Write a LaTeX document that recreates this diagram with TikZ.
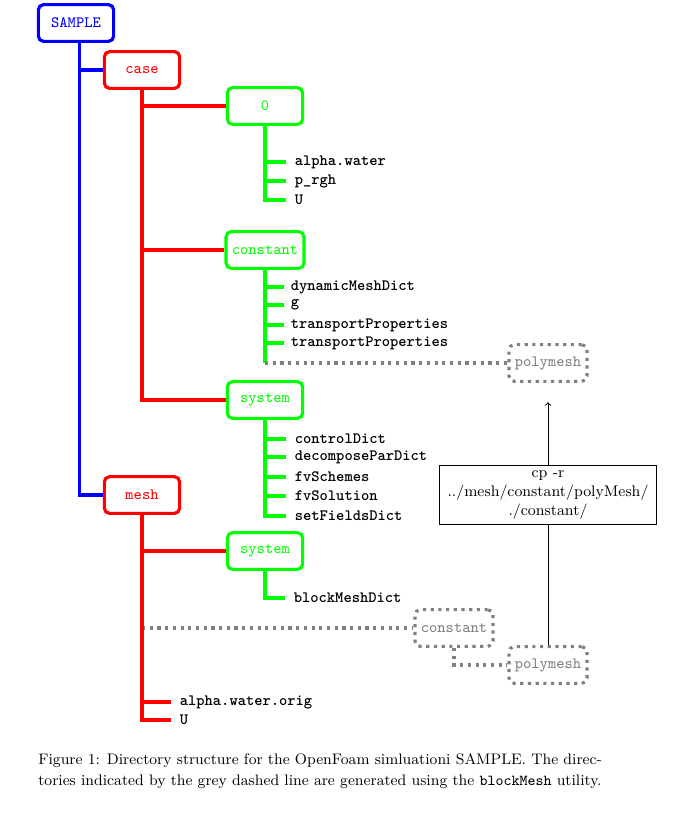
\documentclass[tikz,border=0pt]{standalone}
\usepackage{xcolor}
\usetikzlibrary{positioning}

\begin{document}
\begin{tikzpicture}[x=0.571pt, y=-0.571pt,
    dirbox/.style={draw=#1, text=#1, rounded corners=3pt, line width=1.8pt, fill=white,
                   minimum width=43pt, minimum height=21pt, font=\small\ttfamily},
    genbox/.style={draw=gray, text=gray, line width=1.8pt, dash pattern=on 1.8pt off 2.6pt,
                   rounded corners=3pt, minimum width=43pt, minimum height=21pt,
                   font=\small\ttfamily},
    cmdbox/.style={draw, line width=0.5pt, minimum width=124pt, minimum height=34pt,
                   align=center, inner sep=1pt, font=\fontsize{8.8pt}{11pt}\selectfont},
    item/.style={anchor=west, font=\small\ttfamily\bfseries, inner sep=2pt},
    tree/.style={line width=1.9pt},
    genline/.style={draw=gray, line width=1.8pt, dash pattern=on 1.8pt off 2.6pt}]

    \useasboundingbox (0,0) rectangle (681,827);

    \node[dirbox=blue] (sample) at (76,23) {SAMPLE};
    \node[dirbox=red] (case) at (142,70) {case};
    \node[dirbox=green] (zero) at (265,106) {0};
    \node[dirbox=green] (caseconst) at (265,250) {constant};
    \node[dirbox=green] (casesys) at (265,400) {system};
    \node[dirbox=red] (mesh) at (142,495) {mesh};
    \node[dirbox=green] (meshsys) at (265,551) {system};

    \node[genbox] (casepoly) at (548,363) {polymesh};
    \node[genbox] (meshconst) at (454,628) {constant};
    \node[genbox] (meshpoly) at (548,665) {polymesh};

    \node[cmdbox] (cmd) at (548,495) {cp -r\\../mesh/constant/polyMesh/\\./constant/};

    \node[item] (alpha) at (291,162) {alpha.water};
    \node[item] (prgh) at (291,181) {p\_rgh};
    \node[item] (uzero) at (291,200) {U};

    \node[item] (dynmesh) at (287,287) {dynamicMeshDict};
    \node[item] (grav) at (287,305) {g};
    \node[item] (transpa) at (287,325) {transportProperties};
    \node[item] (transpb) at (287,343) {transportProperties};

    \node[item] (control) at (291,439) {controlDict};
    \node[item] (decomp) at (291,457) {decomposeParDict};
    \node[item] (schemes) at (291,477) {fvSchemes};
    \node[item] (solution) at (291,496) {fvSolution};
    \node[item] (setfields) at (291,516) {setFieldsDict};

    \node[item] (blockdict) at (290,598) {blockMeshDict};

    \node[item] (alphaorig) at (176,702) {alpha.water.orig};
    \node[item] (umesh) at (176,720) {U};

    \draw[tree, blue] ([xshift=2pt]sample.south) |- (case.west);
    \draw[tree, blue] ([xshift=2pt]sample.south) |- (mesh.west);

    \draw[tree, red] (case.south) |- (zero.west);
    \draw[tree, red] (case.south) |- (caseconst.west);
    \draw[tree, red] (case.south) |- (casesys.west);

    \draw[tree, green, shorten >=3pt] (zero.south) |- (alpha.west);
    \draw[tree, green, shorten >=3pt] (zero.south) |- (prgh.west);
    \draw[tree, green, shorten >=3pt] (zero.south) |- (uzero.west);

    \draw[tree, green, shorten >=2pt] (caseconst.south) |- (dynmesh.west);
    \draw[tree, green, shorten >=2pt] (caseconst.south) |- (grav.west);
    \draw[tree, green, shorten >=2pt] (caseconst.south) |- (transpa.west);
    \draw[tree, green, shorten >=2pt] (caseconst.south) |- (transpb.west);
    \draw[tree, green] (caseconst.south) -- (caseconst.south |- casepoly.west);
    \draw[genline] (caseconst.south |- casepoly.west) -- (casepoly.west);

    \draw[tree, green, shorten >=3pt] (casesys.south) |- (control.west);
    \draw[tree, green, shorten >=3pt] (casesys.south) |- (decomp.west);
    \draw[tree, green, shorten >=3pt] (casesys.south) |- (schemes.west);
    \draw[tree, green, shorten >=3pt] (casesys.south) |- (solution.west);
    \draw[tree, green, shorten >=3pt] (casesys.south) |- (setfields.west);

    \draw[tree, red] (mesh.south) |- (meshsys.west);
    \draw[tree, green, shorten >=3pt] (meshsys.south) |- (blockdict.west);
    \draw[genline] (mesh.south |- meshconst.west) -- (meshconst.west);
    \draw[genline] (meshconst.south) |- (meshpoly.west);
    \draw[tree, red, shorten >=3pt] (mesh.south) |- (alphaorig.west);
    \draw[tree, red, shorten >=3pt] (mesh.south) |- (umesh.west);

    \draw[line width=0.5pt] (meshpoly.north) -- (cmd.south);
    \draw[-to, line width=0.5pt, shorten >=11pt] (cmd.north) -- (casepoly.south);

    \node[anchor=north west, align=left, inner sep=0pt, font=\fontsize{8.7pt}{12pt}\selectfont]
        (caption) at (38,753)
        {Figure 1: Directory structure for the OpenFoam simluationi SAMPLE. The direc-\\
         tories indicated by the grey dashed line are generated using the \texttt{blockMesh} utility.};
\end{tikzpicture}
\end{document}
